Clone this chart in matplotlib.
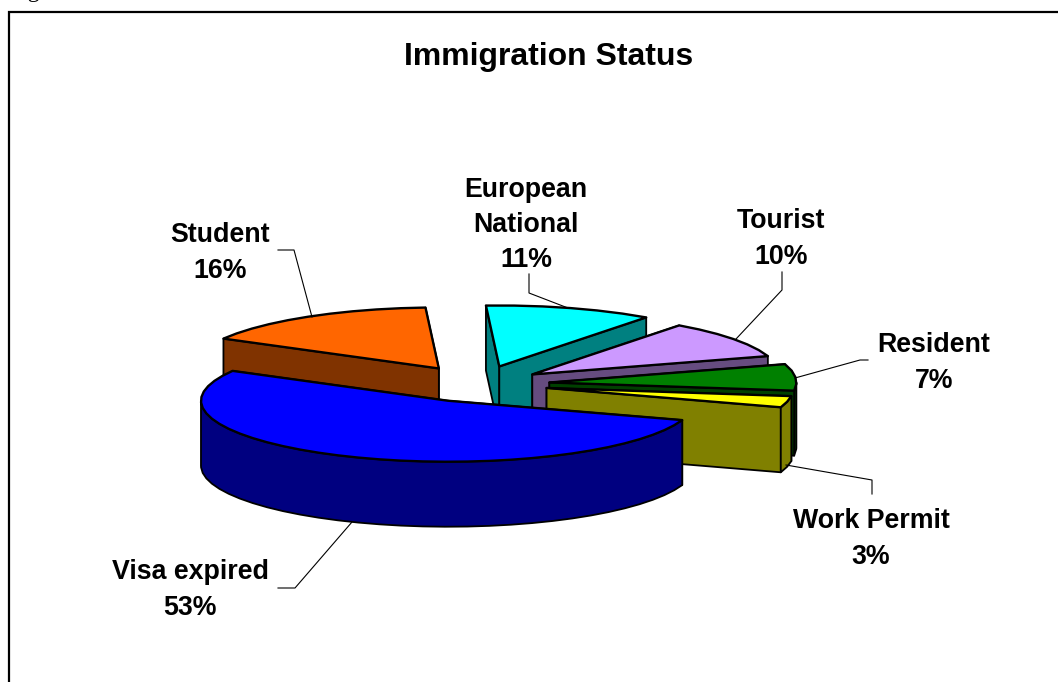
import numpy as np
import matplotlib
matplotlib.use("Agg")
import matplotlib.pyplot as plt
from matplotlib.patches import Polygon

# Immigration status shares, clockwise from the first slice
categorias = ["Visa expired", "Student", "European\nNational", "Tourist", "Resident", "Work Permit"]
valores = [53, 16, 11, 10, 7, 3]
explosao = [0.30, 0.30, 0.30, 0.27, 0.29, 0.285]

cor_topo = ["#0000FF", "#FF6600", "#00FFFF", "#CC99FF", "#008000", "#FFFF00"]
cor_lado = ["#000080", "#803300", "#008080", "#664C80", "#004000", "#808000"]

# label centre and leader line of each slice, in pixels
pos_rotulo = [(190, 590), (220, 253), (526, 225), (781, 239), (934, 363), (871, 539)]
linhas = [
    [(278, 588), (295, 588), (352, 522)],
    [(278, 250), (294, 250), (312, 317)],
    [(529, 274), (529, 293), (568, 308)],
    [(782, 272), (782, 290), (736, 339)],
    [(868, 360), (860, 360), (795, 378)],
    [(872, 494), (872, 480), (786, 465)],
]

# projected pie geometry
cx, cy = 478, 384
rx, ry = 247, 61
altura = 65
inicio = -18.5

fig = plt.figure(figsize=(10.58, 6.82), dpi=100)
ax = fig.add_axes([0, 0, 1, 1])
ax.set_xlim(0, 1058)
ax.set_ylim(682, 0)
ax.axis("off")

# frame of the chart box, the page cuts it on the right and at the bottom
ax.plot([9, 9, 1058], [682, 12, 12], color="black", lw=1.6, solid_joinstyle="miter")

angulos = np.cumsum([0] + valores) / sum(valores) * 360
fatias = []
for i in range(len(valores)):
    # start angle of each slice kept in [-180, 180)
    a1 = (inicio - angulos[i] + 180) % 360 - 180
    a2 = a1 - (angulos[i + 1] - angulos[i])
    meio = np.radians((a1 + a2) / 2)
    ox = cx + explosao[i] * rx * np.cos(meio)
    oy = cy - explosao[i] * ry * np.sin(meio)
    passos = max(3, int(abs(a1 - a2) / 5))
    fatias.append((i, np.array([ox, oy]), np.linspace(a1, a2, passos)))


def ponto(centro, graus):
    t = np.radians(graus)
    return np.column_stack([centro[0] + rx * np.cos(t), centro[1] - ry * np.sin(t)])


def desenha(i, centro, graus):
    baixo = np.array([0, altura])
    arco = ponto(centro, graus)
    faces = [
        np.array([centro, arco[0], arco[0] + baixo, centro + baixo]),
        np.array([centro, arco[-1], arco[-1] + baixo, centro + baixo]),
    ]
    # only the front half of the rim can be seen
    if graus.min() < 0:
        vis = np.unique(np.clip(graus, -180, 0))
        frente = ponto(centro, vis)
        faces.append(np.vstack([frente, frente[::-1] + baixo]))
    faces.sort(key=lambda f: f[:, 1].mean())
    for face in faces:
        ax.add_patch(Polygon(face, closed=True, facecolor=cor_lado[i], edgecolor="black", lw=1.3, joinstyle="round"))
    topo = np.vstack([[centro], arco])
    ax.add_patch(Polygon(topo, closed=True, facecolor=cor_topo[i], edgecolor="black", lw=1.7, joinstyle="round"))


# blue slice is nearest, so it goes last
for fatia in fatias[1:]:
    desenha(*fatia)
desenha(*fatias[0])

for i in range(len(valores)):
    xs, ys = zip(*linhas[i])
    ax.plot(xs, ys, color="black", lw=0.8)
    ax.text(pos_rotulo[i][0], pos_rotulo[i][1], f"{categorias[i]}\n{valores[i]}%",
            ha="center", va="center", fontfamily="Liberation Sans", fontweight="bold",
            fontsize=19.3, linespacing=1.46)

ax.text(548.5, 57, "Immigration Status", ha="center", va="center",
        fontfamily="Liberation Sans", fontweight="bold", fontsize=23)

# caption of the page above, only the tail of its g is left in view
ax.text(8, -3, "Figure", ha="left", va="baseline", fontfamily="Liberation Serif", fontsize=17)

fig.savefig("out.png", dpi=100)
